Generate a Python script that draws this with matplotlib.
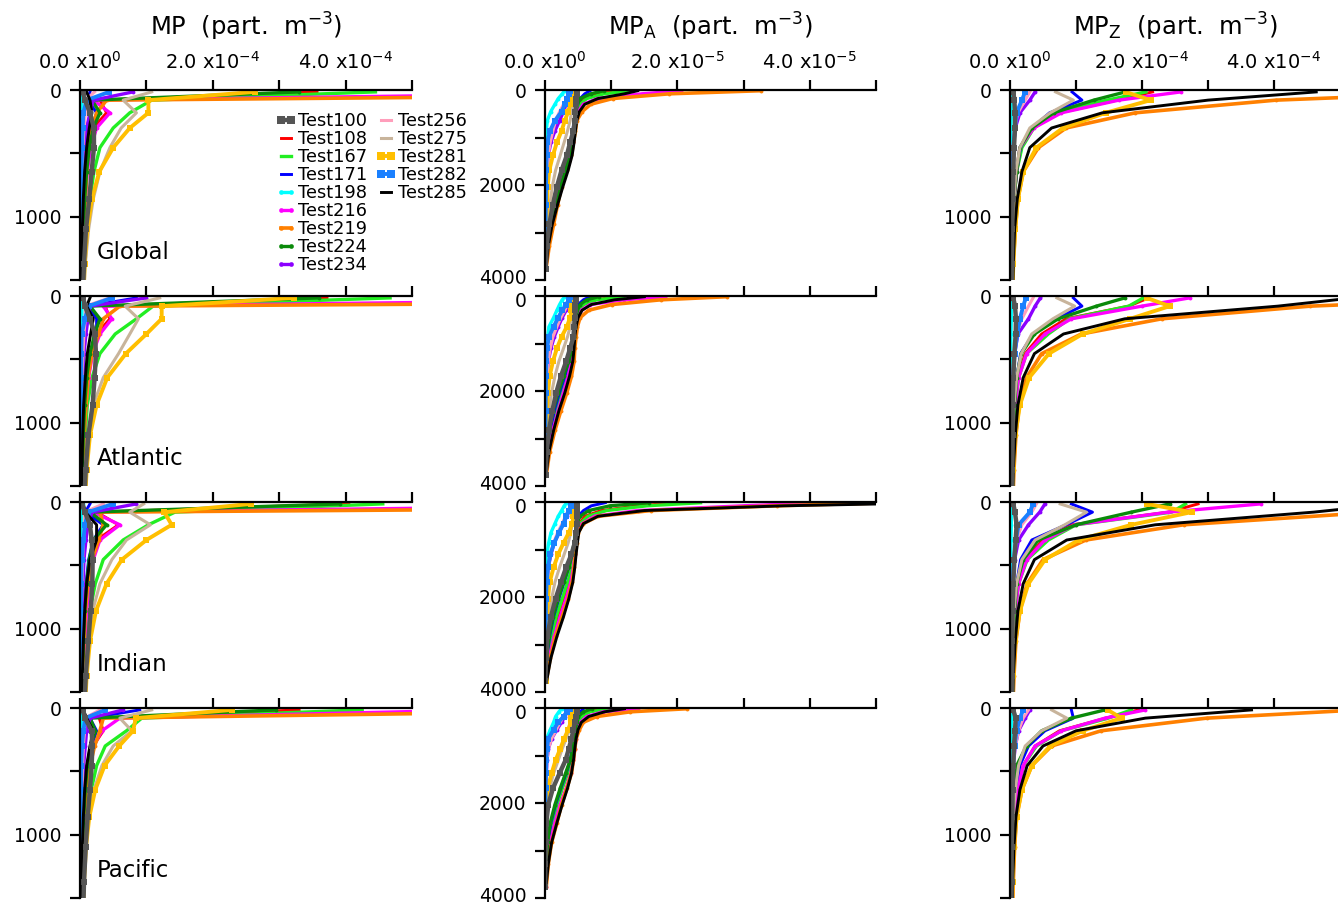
import matplotlib
matplotlib.use('Agg')
import matplotlib.pyplot as plt
from matplotlib.lines import Line2D
from matplotlib.transforms import ScaledTranslation

plt.rcParams['font.family'] = ['DejaVu Sans']

W, H = 1338, 907

# model depth levels (m)
DEPTH = [15, 80, 180, 300, 455, 645, 860, 1100, 1375, 1690, 2035, 2415, 2830, 3280, 3765]

SERIES = ['Test100', 'Test108', 'Test167', 'Test171', 'Test198', 'Test216', 'Test219',
          'Test224', 'Test234', 'Test256', 'Test275', 'Test281', 'Test282', 'Test285']
REGIONS = ['Global', 'Atlantic', 'Indian', 'Pacific']
TITLES = ['MP  (part.  m$^{-3}$)', 'MP$_\\mathregular{A}$  (part.  m$^{-3}$)',
          'MP$_\\mathregular{Z}$  (part.  m$^{-3}$)']

MP_UNIT = 1e-5    # MP and MP_Z values below are in 1e-5 part. m-3
MPA_UNIT = 1e-6   # MP_A values below are in 1e-6 part. m-3

XTICK_LABELS_E4 = ['0.0 x10$^{0}$', '2.0 x10$^{-4}$', '4.0 x10$^{-4}$']
XTICK_LABELS_E5 = ['0.0 x10$^{0}$', '2.0 x10$^{-5}$', '4.0 x10$^{-5}$']

# ---------------- MP (1e-5) ----------------
MP_GLOBAL = {
    'Test100': [0.4, 0.75, 1.5, 2.1, 2.1, 1.75, 1.4, 0.9, 0.6, 0.4],
    'Test108': [35.7, 3.0, 4.0, 2.0, 1.3, 0.9, 0.6, 0.4, 0.3, 0.2],
    'Test167': [44.5, 10.8, 7.5, 5.0, 3.0, 2.1, 1.5, 1.0, 0.7, 0.5],
    'Test171': [1.5, 1.2, 2.5, 1.8, 1.1, 0.7, 0.5, 0.35, 0.25, 0.2],
    'Test198': [0.5, 0.3, 0.3, 0.3, 0.2, 0.15, 0.1, 0.1, 0.05, 0.05],
    'Test216': [96, 2.0, 4.5, 2.5, 1.6, 1.1, 0.8, 0.5, 0.35, 0.25],
    'Test219': [150, 4.0, 2.5, 1.8, 1.3, 1.0, 0.8, 0.6, 0.4, 0.3],
    'Test224': [33, 1.8, 3.0, 2.0, 1.4, 1.0, 0.7, 0.5, 0.35, 0.25],
    'Test234': [8.0, 2.0, 1.5, 1.0, 0.7, 0.5, 0.35, 0.25, 0.2, 0.15],
    'Test256': [2.2, 0.8, 0.8, 0.6, 0.45, 0.3, 0.2, 0.15, 0.1, 0.08],
    'Test275': [10.8, 6.5, 8.5, 6.2, 4.5, 3.0, 2.0, 1.3, 0.8, 0.5],
    'Test281': [26.4, 10.3, 10.3, 7.5, 5.0, 2.9, 1.8, 1.1, 0.7, 0.5],
    'Test282': [4.4, 1.0, 0.5, 0.4, 0.3, 0.25, 0.2, 0.15, 0.1, 0.08],
    'Test285': [1.0, 1.5, 1.8, 1.4, 1.0, 0.7, 0.5, 0.35, 0.25, 0.2],
}
MP_ATLANTIC = {
    'Test100': [0.5, 0.75, 1.5, 2.26, 2.4, 2.2, 1.9, 1.26, 0.85, 0.6],
    'Test108': [37.2, 3.8, 4.5, 2.5, 1.6, 1.1, 0.8, 0.5, 0.35, 0.25],
    'Test167': [46.7, 11.0, 8.5, 5.3, 3.0, 1.8, 1.1, 0.8, 0.5, 0.35],
    'Test171': [8.5, 1.2, 2.5, 2.5, 1.5, 0.9, 0.6, 0.4, 0.3, 0.2],
    'Test198': [0.5, 0.3, 0.3, 0.3, 0.2, 0.15, 0.1, 0.1, 0.05, 0.05],
    'Test216': [111, 3.5, 4.8, 3.0, 1.9, 1.3, 0.9, 0.6, 0.4, 0.3],
    'Test219': [200, 6.0, 3.5, 2.8, 1.8, 1.2, 0.9, 0.6, 0.4, 0.3],
    'Test224': [36, 1.5, 3.0, 2.2, 1.5, 1.0, 0.7, 0.5, 0.35, 0.25],
    'Test234': [10, 1.5, 1.2, 0.9, 0.6, 0.45, 0.3, 0.2, 0.15, 0.1],
    'Test256': [4.5, 0.8, 0.8, 0.6, 0.45, 0.3, 0.2, 0.15, 0.1, 0.08],
    'Test275': [12, 6.8, 8.8, 7.5, 5.8, 3.5, 2.0, 1.2, 0.8, 0.5],
    'Test281': [32.2, 12.3, 12.3, 10.0, 6.9, 4.1, 2.5, 1.5, 1.0, 0.7],
    'Test282': [4.8, 1.3, 0.75, 0.25, 0.2, 0.2, 0.15, 0.1, 0.08, 0.06],
    'Test285': [1.5, 1.0, 2.0, 1.6, 1.1, 0.8, 0.55, 0.4, 0.3, 0.2],
}
MP_INDIAN = {
    'Test100': [0.25, 0.75, 1.5, 1.76, 1.9, 1.86, 1.6, 1.26, 0.86, 0.6],
    'Test108': [40.5, 2.5, 5.8, 2.5, 1.6, 1.1, 0.8, 0.55, 0.4, 0.3],
    'Test167': [45.6, 14.3, 10.3, 6.5, 3.5, 2.3, 1.5, 1.0, 0.7, 0.5],
    'Test171': [1.5, 0.8, 3.5, 2.0, 1.3, 0.9, 0.6, 0.4, 0.3, 0.2],
    'Test198': [0.4, 0.3, 0.3, 0.3, 0.2, 0.15, 0.1, 0.1, 0.05, 0.05],
    'Test216': [106, 2.0, 6.0, 3.0, 2.0, 1.4, 1.0, 0.7, 0.5, 0.35],
    'Test219': [183, 3.0, 3.5, 2.8, 1.8, 1.2, 0.8, 0.6, 0.4, 0.3],
    'Test224': [39.2, 1.5, 4.0, 2.0, 1.4, 1.0, 0.7, 0.5, 0.35, 0.25],
    'Test234': [8.5, 1.8, 1.2, 0.9, 0.6, 0.45, 0.3, 0.2, 0.15, 0.1],
    'Test256': [3.5, 0.7, 0.7, 0.5, 0.4, 0.3, 0.2, 0.15, 0.1, 0.08],
    'Test275': [9.6, 7.5, 10.6, 7.0, 4.8, 3.0, 1.9, 1.2, 0.8, 0.5],
    'Test281': [25.8, 12.7, 13.8, 10.0, 6.3, 4.0, 2.4, 1.5, 1.0, 0.7],
    'Test282': [5.0, 1.2, 0.75, 0.5, 0.25, 0.2, 0.15, 0.1, 0.08, 0.06],
    'Test285': [0.5, 0.8, 2.5, 2.5, 1.5, 1.0, 0.7, 0.5, 0.35, 0.25],
}
MP_PACIFIC = {
    'Test100': [0.4, 0.75, 1.76, 1.86, 1.76, 1.5, 1.15, 0.86, 0.6, 0.45],
    'Test108': [33, 2.9, 3.5, 2.0, 1.3, 0.9, 0.6, 0.45, 0.3, 0.2],
    'Test167': [42.5, 9.3, 7.0, 3.8, 2.5, 1.7, 1.2, 0.8, 0.55, 0.4],
    'Test171': [9.0, 1.5, 2.5, 1.8, 1.1, 0.75, 0.5, 0.35, 0.25, 0.2],
    'Test198': [0.4, 0.3, 0.3, 0.25, 0.2, 0.15, 0.1, 0.1, 0.05, 0.05],
    'Test216': [61, 6.0, 3.3, 2.0, 1.3, 0.9, 0.6, 0.45, 0.3, 0.2],
    'Test219': [90, 3.5, 3.0, 2.2, 1.5, 1.0, 0.7, 0.5, 0.35, 0.25],
    'Test224': [29.5, 1.5, 2.3, 1.6, 1.1, 0.8, 0.55, 0.4, 0.3, 0.2],
    'Test234': [6.5, 1.5, 1.0, 0.8, 0.55, 0.4, 0.3, 0.2, 0.15, 0.1],
    'Test256': [3.0, 0.7, 0.7, 0.5, 0.4, 0.3, 0.2, 0.15, 0.1, 0.08],
    'Test275': [10.8, 6.0, 7.8, 5.0, 3.3, 2.1, 1.3, 0.85, 0.55, 0.4],
    'Test281': [22.9, 8.4, 8.0, 5.9, 3.7, 2.3, 1.4, 0.9, 0.6, 0.45],
    'Test282': [3.8, 0.8, 0.5, 0.3, 0.2, 0.15, 0.12, 0.1, 0.08, 0.06],
    'Test285': [0.5, 1.0, 2.0, 1.5, 1.0, 0.7, 0.5, 0.35, 0.25, 0.2],
}

# ---------------- MP_A (1e-6) ----------------
MPA_GLOBAL = {
    'Test100': [4.8, 4.8, 4.7, 4.7, 4.6, 4.5, 4.3, 3.8, 3.3, 2.5, 1.8, 1.2, 0.65, 0.25, 0.1],
    'Test108': [10.0, 7.5, 6.0, 5.2, 4.8, 4.6, 4.4, 4.1, 3.6, 2.8, 2.0, 1.3, 0.75, 0.35, 0.1],
    'Test167': [12.9, 8.9, 6.3, 5.3, 4.8, 4.5, 4.3, 4.1, 3.6, 2.8, 2.0, 1.3, 0.8, 0.35, 0.1],
    'Test171': [6.8, 6.0, 5.3, 4.9, 4.6, 4.4, 4.2, 3.9, 3.4, 2.6, 1.8, 1.1, 0.6, 0.3, 0.1],
    'Test198': [3.0, 2.6, 2.0, 1.5, 0.86, 0.35, 0.2, 0.15, 0.12, 0.1, 0.08, 0.06, 0.05, 0.04, 0.03],
    'Test216': [20.6, 14.7, 7.9, 5.8, 5.0, 4.6, 4.4, 4.2, 3.8, 3.0, 2.2, 1.5, 0.9, 0.4, 0.15],
    'Test219': [32.6, 18.8, 10.2, 6.9, 5.6, 4.8, 4.6, 4.3, 4.0, 3.3, 2.5, 1.9, 1.3, 0.65, 0.15],
    'Test224': [8.9, 6.9, 5.3, 4.9, 4.7, 4.6, 4.4, 4.0, 3.7, 3.1, 2.3, 1.5, 0.8, 0.3, 0.05],
    'Test234': [4.0, 3.8, 3.5, 3.2, 2.8, 2.2, 1.5, 0.9, 0.5, 0.3, 0.2, 0.15, 0.1, 0.08, 0.05],
    'Test256': [4.0, 3.8, 3.4, 2.8, 2.2, 1.6, 1.2, 0.8, 0.5, 0.35, 0.25, 0.18, 0.12, 0.08, 0.05],
    'Test275': [4.5, 4.4, 4.3, 4.2, 4.0, 3.8, 3.4, 2.9, 2.3, 1.6, 1.1, 0.75, 0.45, 0.2, 0.1],
    'Test281': [4.2, 4.1, 4.0, 3.8, 3.5, 3.0, 2.5, 1.8, 1.2, 0.65, 0.4, 0.3, 0.2, 0.15, 0.1],
    'Test282': [3.8, 3.6, 3.3, 3.0, 2.5, 1.5, 0.75, 0.35, 0.25, 0.2, 0.15, 0.12, 0.1, 0.08, 0.05],
    'Test285': [14.0, 12.0, 8.0, 6.0, 5.2, 4.8, 4.6, 4.4, 4.1, 3.5, 2.7, 1.9, 1.1, 0.5, 0.15],
}
MPA_ATLANTIC = {
    'Test100': [4.7, 4.7, 4.6, 4.6, 4.5, 4.4, 4.3, 3.8, 3.2, 2.4, 1.7, 1.1, 0.6, 0.25, 0.1],
    'Test108': [11.0, 7.5, 5.8, 5.0, 4.8, 4.6, 4.5, 4.3, 4.0, 3.3, 2.5, 1.6, 0.9, 0.4, 0.1],
    'Test167': [11.9, 7.8, 5.8, 5.0, 4.8, 4.6, 4.5, 4.3, 4.0, 3.3, 2.5, 1.6, 0.9, 0.4, 0.1],
    'Test171': [6.8, 5.8, 5.0, 4.8, 4.6, 4.5, 4.3, 4.1, 3.7, 3.0, 2.2, 1.4, 0.8, 0.3, 0.1],
    'Test198': [3.0, 2.6, 2.2, 1.8, 1.3, 0.6, 0.4, 0.3, 0.2, 0.15, 0.1, 0.08, 0.06, 0.05, 0.03],
    'Test216': [18.2, 11.9, 6.8, 5.5, 5.0, 4.7, 4.5, 4.3, 4.0, 3.5, 2.8, 2.0, 1.2, 0.5, 0.15],
    'Test219': [27.5, 17.5, 10.1, 6.6, 5.3, 4.9, 4.7, 4.5, 4.4, 4.0, 3.3, 2.4, 1.5, 0.7, 0.2],
    'Test224': [8.1, 6.3, 5.3, 4.9, 4.7, 4.5, 4.4, 4.1, 3.6, 2.8, 2.0, 1.2, 0.6, 0.2, 0.05],
    'Test234': [4.2, 4.0, 3.6, 3.2, 2.6, 2.0, 1.4, 0.9, 0.5, 0.3, 0.2, 0.15, 0.1, 0.08, 0.05],
    'Test256': [4.0, 3.8, 3.4, 3.0, 2.4, 1.8, 1.2, 0.8, 0.5, 0.3, 0.2, 0.15, 0.1, 0.08, 0.05],
    'Test275': [4.5, 4.4, 4.3, 4.2, 4.0, 3.8, 3.4, 2.8, 2.1, 1.5, 1.0, 0.6, 0.35, 0.2, 0.1],
    'Test281': [4.3, 4.2, 4.1, 4.0, 3.8, 3.3, 2.5, 1.8, 1.2, 0.7, 0.45, 0.3, 0.2, 0.15, 0.1],
    'Test282': [3.8, 3.6, 3.2, 2.6, 2.0, 1.3, 0.6, 0.3, 0.2, 0.15, 0.12, 0.1, 0.08, 0.05, 0.03],
    'Test285': [15.0, 10.5, 7.0, 5.6, 5.0, 4.7, 4.5, 4.4, 4.2, 3.7, 3.0, 2.1, 1.3, 0.6, 0.15],
}
MPA_INDIAN = {
    'Test100': [4.8, 4.8, 4.8, 4.8, 4.8, 4.7, 4.5, 4.0, 3.2, 2.4, 1.6, 0.9, 0.35, 0.15, 0.05],
    'Test108': [20.0, 14.0, 8.5, 6.0, 5.2, 4.9, 4.7, 4.5, 4.2, 3.6, 2.8, 1.9, 1.1, 0.5, 0.15],
    'Test167': [23.5, 15.4, 9.3, 6.5, 5.3, 4.8, 4.6, 4.4, 4.1, 3.4, 2.6, 1.7, 1.0, 0.45, 0.1],
    'Test171': [9.1, 7.0, 5.8, 5.0, 4.7, 4.6, 4.4, 4.1, 3.6, 2.9, 2.1, 1.3, 0.7, 0.3, 0.1],
    'Test198': [3.3, 2.9, 2.5, 2.0, 1.5, 0.9, 0.55, 0.3, 0.2, 0.15, 0.1, 0.08, 0.06, 0.05, 0.03],
    'Test216': [41.7, 30.0, 14.0, 7.5, 5.6, 4.9, 4.7, 4.5, 4.3, 3.9, 3.2, 2.3, 1.4, 0.6, 0.15],
    'Test219': [52.0, 35.0, 16.0, 8.0, 5.8, 5.0, 4.8, 4.6, 4.4, 4.1, 3.5, 2.6, 1.6, 0.8, 0.2],
    'Test224': [15.7, 9.8, 6.6, 5.3, 4.8, 4.6, 4.4, 4.1, 3.6, 2.8, 2.0, 1.2, 0.6, 0.25, 0.05],
    'Test234': [4.2, 4.0, 3.7, 3.3, 2.8, 2.1, 1.4, 0.9, 0.5, 0.3, 0.2, 0.15, 0.1, 0.08, 0.05],
    'Test256': [4.0, 3.8, 3.5, 3.1, 2.6, 1.9, 1.3, 0.8, 0.5, 0.3, 0.2, 0.15, 0.1, 0.08, 0.05],
    'Test275': [4.6, 4.5, 4.4, 4.3, 4.1, 3.9, 3.5, 2.9, 2.2, 1.5, 1.0, 0.6, 0.35, 0.2, 0.1],
    'Test281': [4.5, 4.5, 4.4, 4.3, 4.1, 3.6, 2.8, 2.0, 1.3, 0.7, 0.45, 0.3, 0.2, 0.15, 0.1],
    'Test282': [4.3, 4.0, 3.6, 3.2, 2.8, 2.1, 1.4, 0.8, 0.45, 0.25, 0.15, 0.12, 0.1, 0.08, 0.05],
    'Test285': [60.0, 36.0, 15.0, 8.0, 5.8, 5.1, 4.9, 4.7, 4.5, 4.2, 3.6, 2.8, 1.8, 0.9, 0.25],
}
MPA_PACIFIC = {
    'Test100': [4.8, 4.8, 4.7, 4.5, 4.3, 4.0, 3.6, 3.1, 2.2, 1.2, 0.5, 0.2, 0.1, 0.05, 0.03],
    'Test108': [9.0, 6.5, 5.5, 4.9, 4.7, 4.5, 4.3, 4.0, 3.4, 2.6, 1.8, 1.1, 0.6, 0.25, 0.1],
    'Test167': [9.8, 6.8, 5.6, 5.0, 4.7, 4.5, 4.3, 4.0, 3.4, 2.6, 1.8, 1.1, 0.6, 0.25, 0.1],
    'Test171': [5.8, 5.3, 4.9, 4.7, 4.5, 4.3, 4.1, 3.8, 3.2, 2.4, 1.6, 0.9, 0.5, 0.2, 0.05],
    'Test198': [2.5, 2.1, 1.6, 1.3, 0.8, 0.25, 0.15, 0.1, 0.08, 0.06, 0.05, 0.04, 0.03, 0.02, 0.02],
    'Test216': [14.1, 8.8, 6.3, 5.4, 5.0, 4.7, 4.5, 4.3, 3.9, 3.2, 2.3, 1.5, 0.8, 0.35, 0.1],
    'Test219': [21.5, 12.9, 7.8, 5.8, 5.2, 4.7, 4.5, 4.3, 4.0, 3.3, 2.5, 1.8, 1.0, 0.5, 0.2],
    'Test224': [7.1, 5.8, 5.0, 4.8, 4.6, 4.4, 4.2, 3.8, 3.1, 2.3, 1.5, 0.8, 0.4, 0.15, 0.05],
    'Test234': [3.8, 3.4, 3.0, 2.5, 1.8, 1.0, 0.5, 0.3, 0.2, 0.15, 0.1, 0.08, 0.06, 0.05, 0.03],
    'Test256': [3.6, 3.2, 2.8, 2.3, 1.7, 1.0, 0.5, 0.3, 0.2, 0.15, 0.1, 0.08, 0.06, 0.05, 0.03],
    'Test275': [4.5, 4.4, 4.2, 4.0, 3.7, 3.2, 2.6, 2.0, 1.3, 0.7, 0.35, 0.2, 0.12, 0.08, 0.05],
    'Test281': [4.2, 4.1, 4.0, 3.9, 3.5, 2.9, 2.3, 1.6, 1.0, 0.4, 0.2, 0.12, 0.08, 0.05, 0.03],
    'Test282': [3.8, 3.3, 2.8, 2.0, 1.3, 0.5, 0.3, 0.2, 0.15, 0.1, 0.08, 0.06, 0.05, 0.04, 0.03],
    'Test285': [12.0, 9.0, 6.6, 5.5, 5.0, 4.7, 4.5, 4.3, 4.0, 3.4, 2.6, 1.8, 1.0, 0.5, 0.15],
}

# ---------------- MP_Z (1e-5) ----------------
MPZ_GLOBAL = {
    'Test100': [0.5, 0.66, 0.76, 0.76, 0.6, 0.5, 0.4, 0.35, 0.3, 0.25],
    'Test108': [21.6, 16.2, 7.5, 3.5, 1.7, 1.0, 0.6, 0.4, 0.3, 0.2],
    'Test167': [20.6, 14.7, 6.6, 3.6, 1.8, 1.0, 0.6, 0.4, 0.3, 0.2],
    'Test171': [9.4, 10.9, 6.0, 3.3, 1.6, 1.0, 0.6, 0.4, 0.3, 0.2],
    'Test198': [0.2, 0.2, 0.2, 0.15, 0.12, 0.1, 0.1, 0.08, 0.06, 0.05],
    'Test216': [25.9, 16.5, 7.8, 3.6, 1.5, 1.0, 0.6, 0.4, 0.3, 0.2],
    'Test219': [72, 40.3, 19.0, 8.5, 4.3, 2.0, 1.2, 0.8, 0.5, 0.35],
    'Test224': [17.5, 12.7, 6.6, 3.3, 1.5, 1.0, 0.6, 0.4, 0.3, 0.2],
    'Test234': [3.8, 3.0, 1.5, 0.8, 0.5, 0.35, 0.25, 0.2, 0.15, 0.1],
    'Test256': [3.0, 2.3, 1.2, 0.7, 0.45, 0.3, 0.2, 0.15, 0.12, 0.1],
    'Test275': [6.9, 9.6, 6.1, 3.0, 1.5, 0.9, 0.6, 0.4, 0.3, 0.2],
    'Test281': [17.5, 21.3, 14.5, 8.0, 4.0, 2.0, 1.2, 0.8, 0.5, 0.35],
    'Test282': [2.3, 1.8, 1.0, 0.75, 0.5, 0.35, 0.25, 0.2, 0.15, 0.1],
    'Test285': [46.4, 30.0, 14.0, 6.3, 3.0, 1.8, 1.1, 0.7, 0.5, 0.35],
}
MPZ_ATLANTIC = {
    'Test100': [0.5, 0.76, 0.9, 0.86, 0.66, 0.5, 0.4, 0.4, 0.35, 0.3],
    'Test108': [21.0, 18.0, 8.5, 4.8, 2.3, 1.2, 0.8, 0.5, 0.35, 0.25],
    'Test167': [20.2, 18.0, 9.0, 5.8, 2.5, 1.3, 0.8, 0.5, 0.35, 0.25],
    'Test171': [9.6, 10.9, 7.0, 3.5, 1.6, 1.0, 0.6, 0.4, 0.3, 0.2],
    'Test198': [0.2, 0.2, 0.2, 0.15, 0.12, 0.1, 0.1, 0.08, 0.06, 0.05],
    'Test216': [27.2, 20.0, 9.3, 5.3, 2.5, 1.3, 0.8, 0.5, 0.35, 0.25],
    'Test219': [76, 45.5, 23.0, 10.8, 4.8, 2.5, 1.4, 0.9, 0.6, 0.4],
    'Test224': [17.4, 13.1, 7.3, 3.7, 1.7, 1.0, 0.7, 0.5, 0.35, 0.25],
    'Test234': [4.6, 3.8, 2.8, 1.2, 0.7, 0.45, 0.3, 0.2, 0.15, 0.1],
    'Test256': [3.5, 2.8, 1.8, 1.0, 0.6, 0.4, 0.25, 0.2, 0.15, 0.1],
    'Test275': [7.1, 9.8, 6.5, 3.3, 1.7, 1.0, 0.6, 0.4, 0.3, 0.2],
    'Test281': [20.7, 24.2, 18.2, 11.0, 5.9, 2.9, 1.5, 0.8, 0.5, 0.35],
    'Test282': [2.4, 2.0, 1.5, 1.1, 0.7, 0.45, 0.3, 0.2, 0.15, 0.1],
    'Test285': [52, 40.6, 17.4, 8.1, 3.7, 2.0, 1.2, 0.8, 0.5, 0.35],
}
MPZ_INDIAN = {
    'Test100': [0.5, 0.75, 1.0, 0.86, 0.66, 0.5, 0.4, 0.35, 0.35, 0.3],
    'Test108': [28.5, 24.0, 9.3, 5.0, 2.3, 1.2, 0.8, 0.5, 0.35, 0.25],
    'Test167': [26.6, 24.5, 10.0, 5.8, 2.6, 1.3, 0.8, 0.5, 0.35, 0.25],
    'Test171': [9.3, 12.5, 8.5, 3.3, 1.6, 1.0, 0.6, 0.4, 0.3, 0.2],
    'Test198': [0.2, 0.2, 0.2, 0.15, 0.12, 0.1, 0.1, 0.08, 0.06, 0.05],
    'Test216': [38.0, 24.0, 9.8, 5.3, 2.5, 1.3, 0.8, 0.5, 0.35, 0.25],
    'Test219': [80, 55.5, 26.3, 11.5, 5.0, 2.6, 1.5, 0.9, 0.6, 0.4],
    'Test224': [24.2, 18.4, 10.0, 4.3, 2.0, 1.0, 0.7, 0.5, 0.35, 0.25],
    'Test234': [5.3, 4.5, 2.8, 1.3, 0.7, 0.45, 0.3, 0.2, 0.15, 0.1],
    'Test256': [4.0, 3.3, 1.8, 1.0, 0.6, 0.4, 0.25, 0.2, 0.15, 0.1],
    'Test275': [7.6, 11.6, 8.3, 3.8, 1.8, 1.0, 0.6, 0.4, 0.3, 0.2],
    'Test281': [20.7, 27.5, 18.4, 10.4, 5.3, 2.8, 1.5, 0.8, 0.5, 0.35],
    'Test282': [3.5, 3.0, 1.3, 0.9, 0.6, 0.4, 0.3, 0.2, 0.15, 0.1],
    'Test285': [58, 46.0, 22.0, 8.6, 3.7, 2.0, 1.2, 0.8, 0.5, 0.35],
}
MPZ_PACIFIC = {
    'Test100': [0.5, 0.86, 0.76, 0.6, 0.5, 0.4, 0.35, 0.25, 0.25, 0.2],
    'Test108': [19.5, 14.5, 7.5, 3.8, 2.0, 1.2, 0.8, 0.5, 0.35, 0.25],
    'Test167': [18.4, 14.9, 7.8, 4.0, 2.0, 1.2, 0.8, 0.5, 0.35, 0.25],
    'Test171': [9.3, 9.6, 5.3, 2.8, 1.5, 0.9, 0.6, 0.4, 0.3, 0.2],
    'Test198': [0.2, 0.2, 0.2, 0.15, 0.12, 0.1, 0.1, 0.08, 0.06, 0.05],
    'Test216': [20.5, 14.4, 7.8, 3.8, 2.0, 1.2, 0.8, 0.5, 0.35, 0.25],
    'Test219': [53, 29.8, 13.8, 6.3, 3.3, 1.8, 1.0, 0.7, 0.5, 0.35],
    'Test224': [14.4, 9.3, 4.8, 2.5, 1.0, 0.6, 0.4, 0.3, 0.2, 0.15],
    'Test234': [3.0, 2.3, 1.3, 0.8, 0.5, 0.35, 0.25, 0.2, 0.15, 0.1],
    'Test256': [2.8, 2.0, 1.3, 0.8, 0.5, 0.35, 0.25, 0.2, 0.15, 0.1],
    'Test275': [6.3, 8.6, 4.8, 2.3, 1.3, 0.8, 0.5, 0.35, 0.25, 0.2],
    'Test281': [14.8, 16.9, 11.0, 6.1, 3.3, 1.8, 1.0, 0.6, 0.4, 0.3],
    'Test282': [2.0, 1.5, 1.0, 0.7, 0.45, 0.3, 0.2, 0.15, 0.12, 0.1],
    'Test285': [36.6, 20.5, 10.0, 5.0, 2.6, 1.5, 0.9, 0.6, 0.4, 0.3],
}

PANELS = [
    [MP_GLOBAL, MPA_GLOBAL, MPZ_GLOBAL],
    [MP_ATLANTIC, MPA_ATLANTIC, MPZ_ATLANTIC],
    [MP_INDIAN, MPA_INDIAN, MPZ_INDIAN],
    [MP_PACIFIC, MPA_PACIFIC, MPZ_PACIFIC],
]
COL_UNITS = [MP_UNIT, MPA_UNIT, MP_UNIT]

# ---------------- styles ----------------
STYLE = {
    'Test100': dict(color='#555555', lw=3.2, marker='s', ms=4.8),
    'Test108': dict(color='#FF0000', lw=2.1, marker=None, ms=0),
    'Test167': dict(color='#22EE22', lw=2.4, marker=None, ms=0),
    'Test171': dict(color='#0000FF', lw=2.1, marker=None, ms=0),
    'Test198': dict(color='#00FFFF', lw=2.4, marker='o', ms=2.8),
    'Test216': dict(color='#FF00FF', lw=2.4, marker='o', ms=2.8),
    'Test219': dict(color='#FF8000', lw=2.6, marker='o', ms=2.8),
    'Test224': dict(color='#0A8A0A', lw=2.4, marker='o', ms=2.8),
    'Test234': dict(color='#8C00FF', lw=2.4, marker='o', ms=2.8),
    'Test256': dict(color='#FF9EBB', lw=2.2, marker=None, ms=0),
    'Test275': dict(color='#C8B49B', lw=2.2, marker=None, ms=0),
    'Test281': dict(color='#FFBF00', lw=2.8, marker='s', ms=4.8),
    'Test282': dict(color='#1A80FF', lw=2.8, marker='s', ms=4.8),
    'Test285': dict(color='#000000', lw=2.1, marker=None, ms=0),
}
DRAW_ORDER = SERIES[1:] + SERIES[:1]

COL_LEFT = [80, 545, 1010]
COL_WIDTH = [332, 331, 330]
ROW_TOP = [90, 296, 502, 708]
ROW_H = 190

fig = plt.figure(figsize=(W / 100, H / 100), dpi=100)
up = ScaledTranslation(0, 2.5 / 72, fig.dpi_scale_trans)
down = ScaledTranslation(0, -2.5 / 72, fig.dpi_scale_trans)

for r in range(4):
    for c in range(3):
        ax = fig.add_axes([COL_LEFT[c] / W, 1 - (ROW_TOP[r] + ROW_H) / H,
                           COL_WIDTH[c] / W, ROW_H / H])
        unit = COL_UNITS[c]
        data = PANELS[r][c]
        for name in DRAW_ORDER:
            vals = data[name]
            st = STYLE[name]
            ax.plot([v * unit for v in vals], DEPTH[:len(vals)], color=st['color'],
                    lw=st['lw'], marker=st['marker'], ms=st['ms'],
                    markeredgewidth=0,
                    zorder=2.2 if name == 'Test100' else 2)
        if c == 1:
            ax.set_xlim(0, 5e-5)
            ax.set_xticks([0, 2e-5, 4e-5], XTICK_LABELS_E5)
            ax.set_xticks([1e-5, 3e-5, 5e-5], minor=True)
            ax.set_ylim(4000, 0)
            ax.set_yticks([0, 2000, 4000], ['0', '2000', '4000'])
            ax.set_yticks([1000, 3000], minor=True)
        else:
            ax.set_xlim(0, 5e-4)
            ax.set_xticks([0, 2e-4, 4e-4], XTICK_LABELS_E4)
            ax.set_xticks([1e-4, 3e-4, 5e-4], minor=True)
            ax.set_ylim(1500, 0)
            ax.set_yticks([0, 1000], ['0', '1000'])
            ax.set_yticks([500, 1500], minor=True)
        ax.spines['right'].set_visible(False)
        ax.spines['bottom'].set_visible(False)
        for s in ('left', 'top'):
            ax.spines[s].set_linewidth(1.6)
        ax.tick_params(axis='both', which='both', direction='out', length=7.5,
                       width=1.6, labelsize=13.5)
        ax.tick_params(axis='x', which='both', top=True, bottom=False,
                       labeltop=(r == 0), labelbottom=False, pad=5, labelsize=14)
        ax.tick_params(axis='y', which='both', left=True, right=False, pad=6)
        if c == 1:
            # separate the stacked '4000' / '0' labels a little, as in the original
            for lbl in ax.get_yticklabels():
                if lbl.get_text() == '4000':
                    lbl.set_transform(lbl.get_transform() + up)
                elif lbl.get_text() == '0' and r > 0:
                    lbl.set_transform(lbl.get_transform() + down)
        if c == 0:
            ax.text(0.051, 0.145, REGIONS[r], transform=ax.transAxes,
                    fontsize=16.5, ha='left', va='center')

for c in range(3):
    fig.text((COL_LEFT[c] + COL_WIDTH[c] / 2) / W, 1 - 27 / H, TITLES[c],
             ha='center', va='center', fontsize=17.5)

# legend (two columns: 9 + 5 entries)
def handle(name):
    st = STYLE[name]
    return Line2D([], [], color=st['color'], lw=st['lw'], marker=st['marker'],
                  ms=st['ms'] + 0.5, markeredgewidth=0)

leg_kw = dict(loc='upper left', bbox_transform=fig.transFigure, frameon=False,
              handlelength=1.15, handletextpad=0.08, labelspacing=0.0,
              borderpad=0, borderaxespad=0, numpoints=2, fontsize=12.8)
names1 = SERIES[:9]
names2 = SERIES[9:]
fig.legend([handle(n) for n in names1], names1,
           bbox_to_anchor=(276 / W, 1 - 112 / H), **leg_kw)
fig.legend([handle(n) for n in names2], names2,
           bbox_to_anchor=(376 / W, 1 - 112 / H), **leg_kw)

fig.savefig('out.png', dpi=100)
